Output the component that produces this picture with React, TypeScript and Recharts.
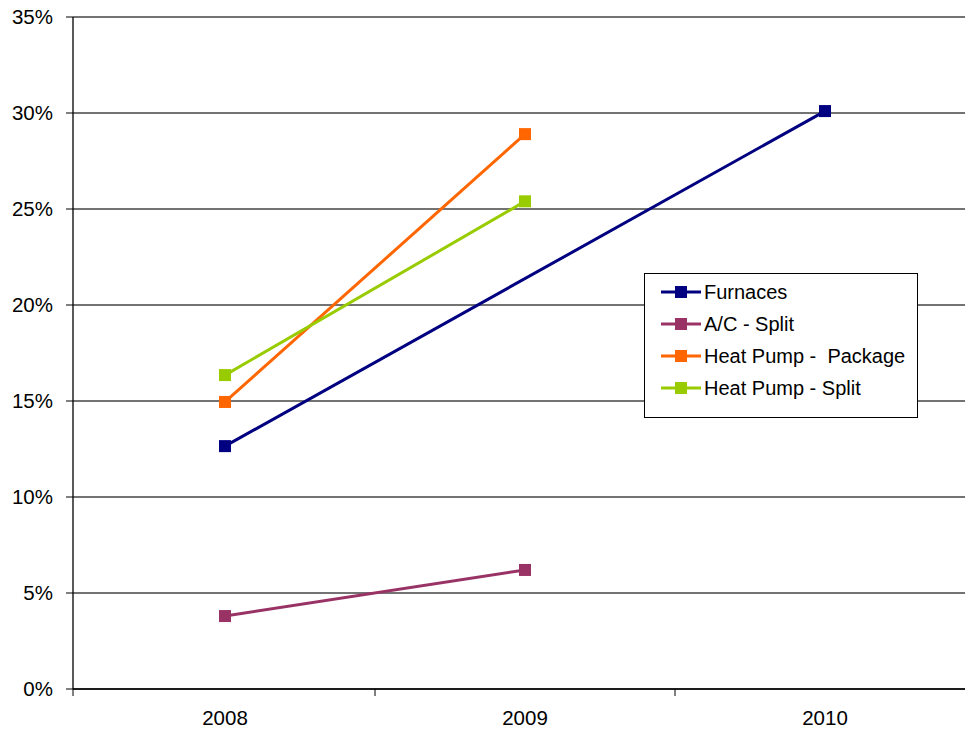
import React from 'react';
import { LineChart, Line, XAxis, YAxis, CartesianGrid } from 'recharts';

const years = ['2008', '2009', '2010'];
const furnaces = [12.65, null, 30.1];
const acSplit = [3.8, 6.2, null];
const heatPumpPackage = [14.95, 28.9, null];
const heatPumpSplit = [16.35, 25.4, null];
const yTicks = [0, 5, 10, 15, 20, 25, 30, 35];

const SERIES = [
  { key: 'furnaces', name: 'Furnaces', color: '#000080', values: furnaces },
  { key: 'acSplit', name: 'A/C - Split', color: '#993366', values: acSplit },
  { key: 'hpPackage', name: 'Heat Pump -  Package', color: '#FF6600', values: heatPumpPackage },
  { key: 'hpSplit', name: 'Heat Pump - Split', color: '#99CC00', values: heatPumpSplit },
];

const data = years.map((year, i) => {
  const row: Record<string, string | number | null> = { year };
  SERIES.forEach((s) => {
    row[s.key] = s.values[i];
  });
  return row;
});

const FONT = '"Liberation Sans", Arial, sans-serif';

// square marker like the old Excel style
const squareDot = (color: string) => (props: any) => {
  const { cx, cy, index } = props;
  if (cx == null || cy == null) return <g key={`e-${index}`} />;
  return <rect key={`d-${index}`} x={cx - 6} y={cy - 6} width={12} height={12} fill={color} />;
};

// category label plus tick marks on the category boundaries
const YearTick = (props: any) => {
  const { x, y, payload, index } = props;
  const half = 150;
  return (
    <g>
      {index === 0 && <line x1={x - half - 2} y1={y} x2={x - half - 2} y2={y + 7} stroke="#000" />}
      <line x1={x + half} y1={y} x2={x + half} y2={y + 7} stroke="#000" />
      <text x={x} y={y + 36} textAnchor="middle" fill="#000" fontSize={20.5} fontFamily={FONT}>
        {payload.value}
      </text>
    </g>
  );
};

const LegendBox = () => (
  <div
    style={{
      position: 'absolute',
      left: 644,
      top: 273,
      width: 274,
      height: 145,
      border: '1px solid #000',
      background: '#fff',
      boxSizing: 'border-box',
      paddingTop: 2,
      fontFamily: FONT,
      fontSize: 20,
    }}
  >
    {SERIES.map((s) => (
      <div key={s.key} style={{ display: 'flex', alignItems: 'center', height: 32 }}>
        <svg width={59} height={14} style={{ flex: 'none' }}>
          <line x1={16} y1={7} x2={56} y2={7} stroke={s.color} strokeWidth={3} />
          <rect x={30} y={1} width={12} height={12} fill={s.color} />
        </svg>
        <span style={{ color: '#000', whiteSpace: 'pre' }}>{s.name}</span>
      </div>
    ))}
  </div>
);

export default function App() {
  return (
    <div style={{ position: 'absolute', left: 0, top: 0, width: 965, height: 733, overflow: 'hidden', background: '#fff' }}>
      <LineChart width={980} height={733} data={data} margin={{ top: 17, right: 7, left: 0, bottom: 0 }}>
        <CartesianGrid vertical={false} stroke="#444" strokeWidth={1.3} />
        <XAxis
          dataKey="year"
          height={44}
          padding={{ left: 152, right: 148 }}
          axisLine={{ stroke: '#000', strokeWidth: 1.3 }}
          tickLine={false}
          tickSize={0}
          tickMargin={0}
          tick={<YearTick />}
          interval={0}
        />
        <YAxis
          width={73}
          domain={[0, 35]}
          ticks={yTicks}
          tickFormatter={(v: number) => `${v}%`}
          axisLine={{ stroke: '#000', strokeWidth: 1.3 }}
          tickLine={{ stroke: '#000' }}
          tickSize={7}
          tickMargin={13}
          tick={{ fill: '#000', fontSize: 20.5, fontFamily: FONT }}
        />
        {SERIES.map((s) => (
          <Line
            key={s.key}
            type="linear"
            dataKey={s.key}
            name={s.name}
            stroke={s.color}
            strokeWidth={3}
            connectNulls
            dot={squareDot(s.color)}
            activeDot={false}
            isAnimationActive={false}
          />
        ))}
      </LineChart>
      <LegendBox />
    </div>
  );
}
